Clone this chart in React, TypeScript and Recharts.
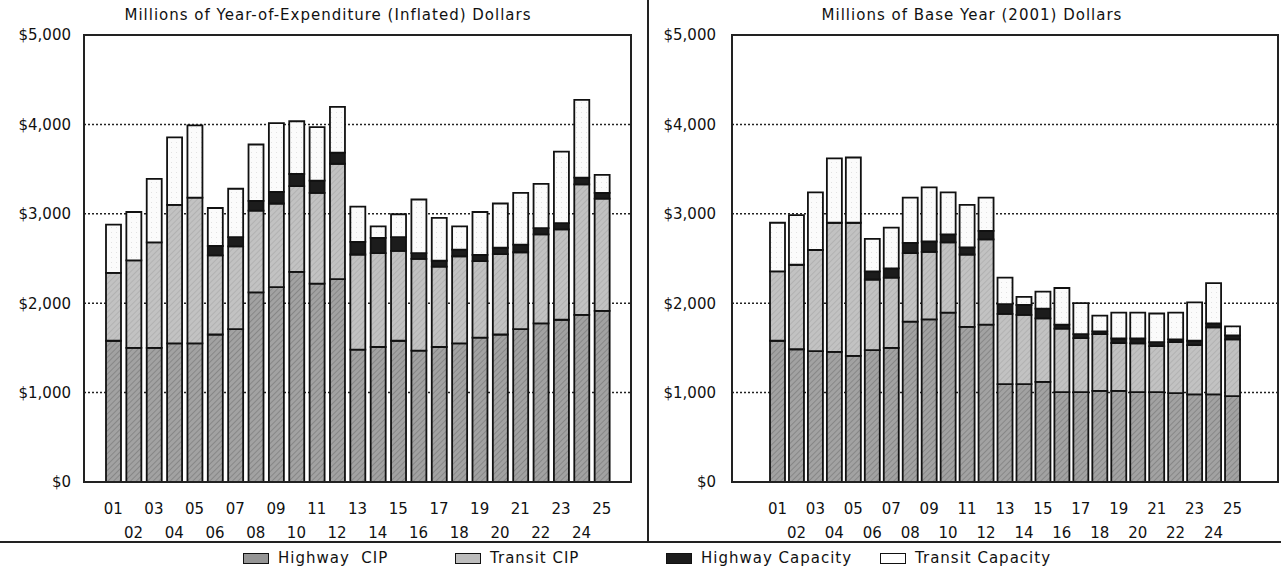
import { BarChart, Bar, XAxis, YAxis, CartesianGrid } from 'recharts';

const years = ['01', '02', '03', '04', '05', '06', '07', '08', '09', '10', '11', '12', '13',
  '14', '15', '16', '17', '18', '19', '20', '21', '22', '23', '24', '25'];

// Millions of year-of-expenditure (inflated) dollars
const yoeHighwayCip = [1580, 1500, 1500, 1550, 1550, 1650, 1710, 2120, 2180, 2350, 2220, 2270, 1480,
  1510, 1580, 1470, 1510, 1550, 1615, 1650, 1710, 1775, 1815, 1870, 1915];
const yoeTransitCip = [760, 980, 1180, 1550, 1630, 885, 925, 915, 935, 960, 1015, 1290, 1065,
  1050, 1005, 1025, 900, 975, 855, 900, 860, 995, 1010, 1460, 1255];
const yoeHighwayCap = [0, 0, 0, 0, 0, 105, 105, 110, 130, 135, 135, 125, 140,
  170, 155, 65, 65, 75, 70, 70, 85, 70, 70, 75, 65];
const yoeTransitCap = [540, 540, 710, 755, 810, 425, 540, 630, 770, 590, 600, 510, 395,
  130, 255, 600, 480, 260, 480, 495, 580, 495, 800, 870, 200];

// Millions of base year (2001) dollars
const baseHighwayCip = [1580, 1485, 1465, 1455, 1410, 1475, 1500, 1795, 1820, 1895, 1735, 1760, 1095,
  1095, 1120, 1005, 1005, 1020, 1020, 1005, 1005, 995, 980, 980, 960];
const baseTransitCip = [775, 945, 1130, 1445, 1490, 790, 785, 765, 755, 785, 810, 955, 785,
  775, 710, 710, 605, 635, 535, 545, 515, 570, 550, 750, 635];
const baseHighwayCap = [0, 0, 0, 0, 0, 90, 105, 115, 115, 90, 80, 95, 110,
  110, 110, 45, 45, 30, 50, 55, 45, 30, 50, 45, 45];
const baseTransitCap = [545, 555, 645, 720, 730, 365, 455, 505, 605, 470, 475, 370, 295,
  90, 190, 410, 345, 175, 290, 290, 320, 300, 430, 450, 100];

const yTicks = [0, 1000, 2000, 3000, 4000, 5000];

const seriesNames = ['Highway  CIP', 'Transit CIP', 'Highway Capacity', 'Transit Capacity'];

const FONT = '"DejaVu Sans", Verdana, sans-serif';

function buildRows(hc: number[], tc: number[], hcap: number[], tcap: number[]) {
  return years.map((year, i) => ({
    year,
    highwayCip: hc[i],
    transitCip: tc[i],
    highwayCap: hcap[i],
    transitCap: tcap[i],
  }));
}

const yoeRows = buildRows(yoeHighwayCip, yoeTransitCip, yoeHighwayCap, yoeTransitCap);
const baseRows = buildRows(baseHighwayCip, baseTransitCip, baseHighwayCap, baseTransitCap);

function YearTick(props: any) {
  const { x, y, payload, index } = props;
  const lower = index % 2 === 1;
  return (
    <text x={x} y={y + (lower ? 56 : 32)} textAnchor="middle" fontFamily={FONT} fontSize={15} fill="#111">
      {payload.value}
    </text>
  );
}

function Patterns({ id }: { id: string }) {
  return (
    <defs>
      <pattern id={`${id}-hc`} width="4" height="4" patternUnits="userSpaceOnUse" patternTransform="rotate(45)">
        <rect width="4" height="4" fill="#a2a2a2" />
        <line x1="0" y1="0" x2="0" y2="4" stroke="#7b7b7b" strokeWidth="1.4" />
      </pattern>
      <pattern id={`${id}-tc`} width="4" height="4" patternUnits="userSpaceOnUse" patternTransform="rotate(45)">
        <rect width="4" height="4" fill="#c2c2c2" />
        <line x1="0" y1="0" x2="0" y2="4" stroke="#a8a8a8" strokeWidth="1.2" />
      </pattern>
      <pattern id={`${id}-tk`} width="5" height="5" patternUnits="userSpaceOnUse">
        <rect width="5" height="5" fill="#fbfbfb" />
        <rect x="1" y="2" width="1" height="1" fill="#e2e2e2" />
      </pattern>
    </defs>
  );
}

interface PanelProps {
  id: string;
  title: string;
  titleCenter: number;
  rows: any[];
  left: number;
  width: number;
  marginLeft: number;
  marginRight: number;
  pad: number;
  labelGap: number;
}

function Panel({ id, title, titleCenter, rows, left, width, marginLeft, marginRight, pad, labelGap }: PanelProps) {
  const plotLeft = left + marginLeft + 60;
  const plotRight = left + width - marginRight;
  return (
    <>
      <div style={{ position: 'absolute', left: titleCenter - 300, width: 600, top: 6, textAlign: 'center',
        fontFamily: FONT, fontSize: 15, letterSpacing: 1, color: '#111', whiteSpace: 'nowrap' }}>{title}</div>
      <div style={{ position: 'absolute', left, top: 0 }}>
        <BarChart width={width} height={573} data={rows}
          margin={{ top: 35, right: marginRight, bottom: 31, left: marginLeft }}>
          <Patterns id={id} />
          <CartesianGrid vertical={false} stroke="#222" strokeDasharray="2 2" strokeWidth={1.5} />
          <XAxis dataKey="year" interval={0} tickSize={0} tickMargin={0} axisLine={false} height={60}
            padding={{ left: pad, right: pad }} tick={<YearTick />} />
          <YAxis domain={[0, 5000]} ticks={yTicks} width={60} tickSize={0} tickMargin={labelGap} axisLine={false}
            tickFormatter={(v) => '$' + Number(v).toLocaleString('en-US')}
            tick={{ fontFamily: FONT, fontSize: 15, fill: '#111' }} />
          <Bar dataKey="highwayCip" stackId="a" fill={`url(#${id}-hc)`} stroke="#111" strokeWidth={1.8} barSize={15} isAnimationActive={false} />
          <Bar dataKey="transitCip" stackId="a" fill={`url(#${id}-tc)`} stroke="#111" strokeWidth={1.8} barSize={15} isAnimationActive={false} />
          <Bar dataKey="highwayCap" stackId="a" fill="#1c1c1c" stroke="#111" strokeWidth={1.8} barSize={15} isAnimationActive={false} />
          <Bar dataKey="transitCap" stackId="a" fill={`url(#${id}-tk)`} stroke="#111" strokeWidth={1.8} barSize={15} isAnimationActive={false} />
        </BarChart>
      </div>
      <div style={{ position: 'absolute', left: plotLeft - 1, top: 34, width: plotRight - plotLeft + 2, height: 449,
        border: '2px solid #222', boxSizing: 'border-box', pointerEvents: 'none' }} />
    </>
  );
}

const legendSwatches = ['#959595', '#bdbdbd', '#1c1c1c', '#ffffff'];
const legendLeft = [243, 455, 666, 880];

export default function App() {
  return (
    <div style={{ position: 'absolute', left: 0, top: 0, width: 1281, height: 573, background: '#fff', overflow: 'hidden' }}>
      <Panel id="yoe" title="Millions of Year-of-Expenditure (Inflated) Dollars" titleCenter={328} rows={yoeRows}
        left={0} width={660} marginLeft={24} marginRight={29} pad={19} labelGap={13} />
      <Panel id="base" title="Millions of Base Year (2001) Dollars" titleCenter={972} rows={baseRows}
        left={650} width={631} marginLeft={22} marginRight={3} pad={36} labelGap={16} />
      <div style={{ position: 'absolute', left: 647, top: 0, width: 2, height: 543, background: '#222' }} />
      <div style={{ position: 'absolute', left: 0, top: 541, width: 1281, height: 2, background: '#222' }} />
      {seriesNames.map((name, i) => (
        <div key={name} style={{ position: 'absolute', left: legendLeft[i], top: 549, height: 18, display: 'flex',
          alignItems: 'center', fontFamily: FONT, fontSize: 15, letterSpacing: 1, color: '#111', whiteSpace: 'pre' }}>
          <span style={{ display: 'inline-block', width: 24, height: 9, background: legendSwatches[i],
            border: '1.5px solid #111', marginRight: 9 }} />
          {name}
        </div>
      ))}
    </div>
  );
}
